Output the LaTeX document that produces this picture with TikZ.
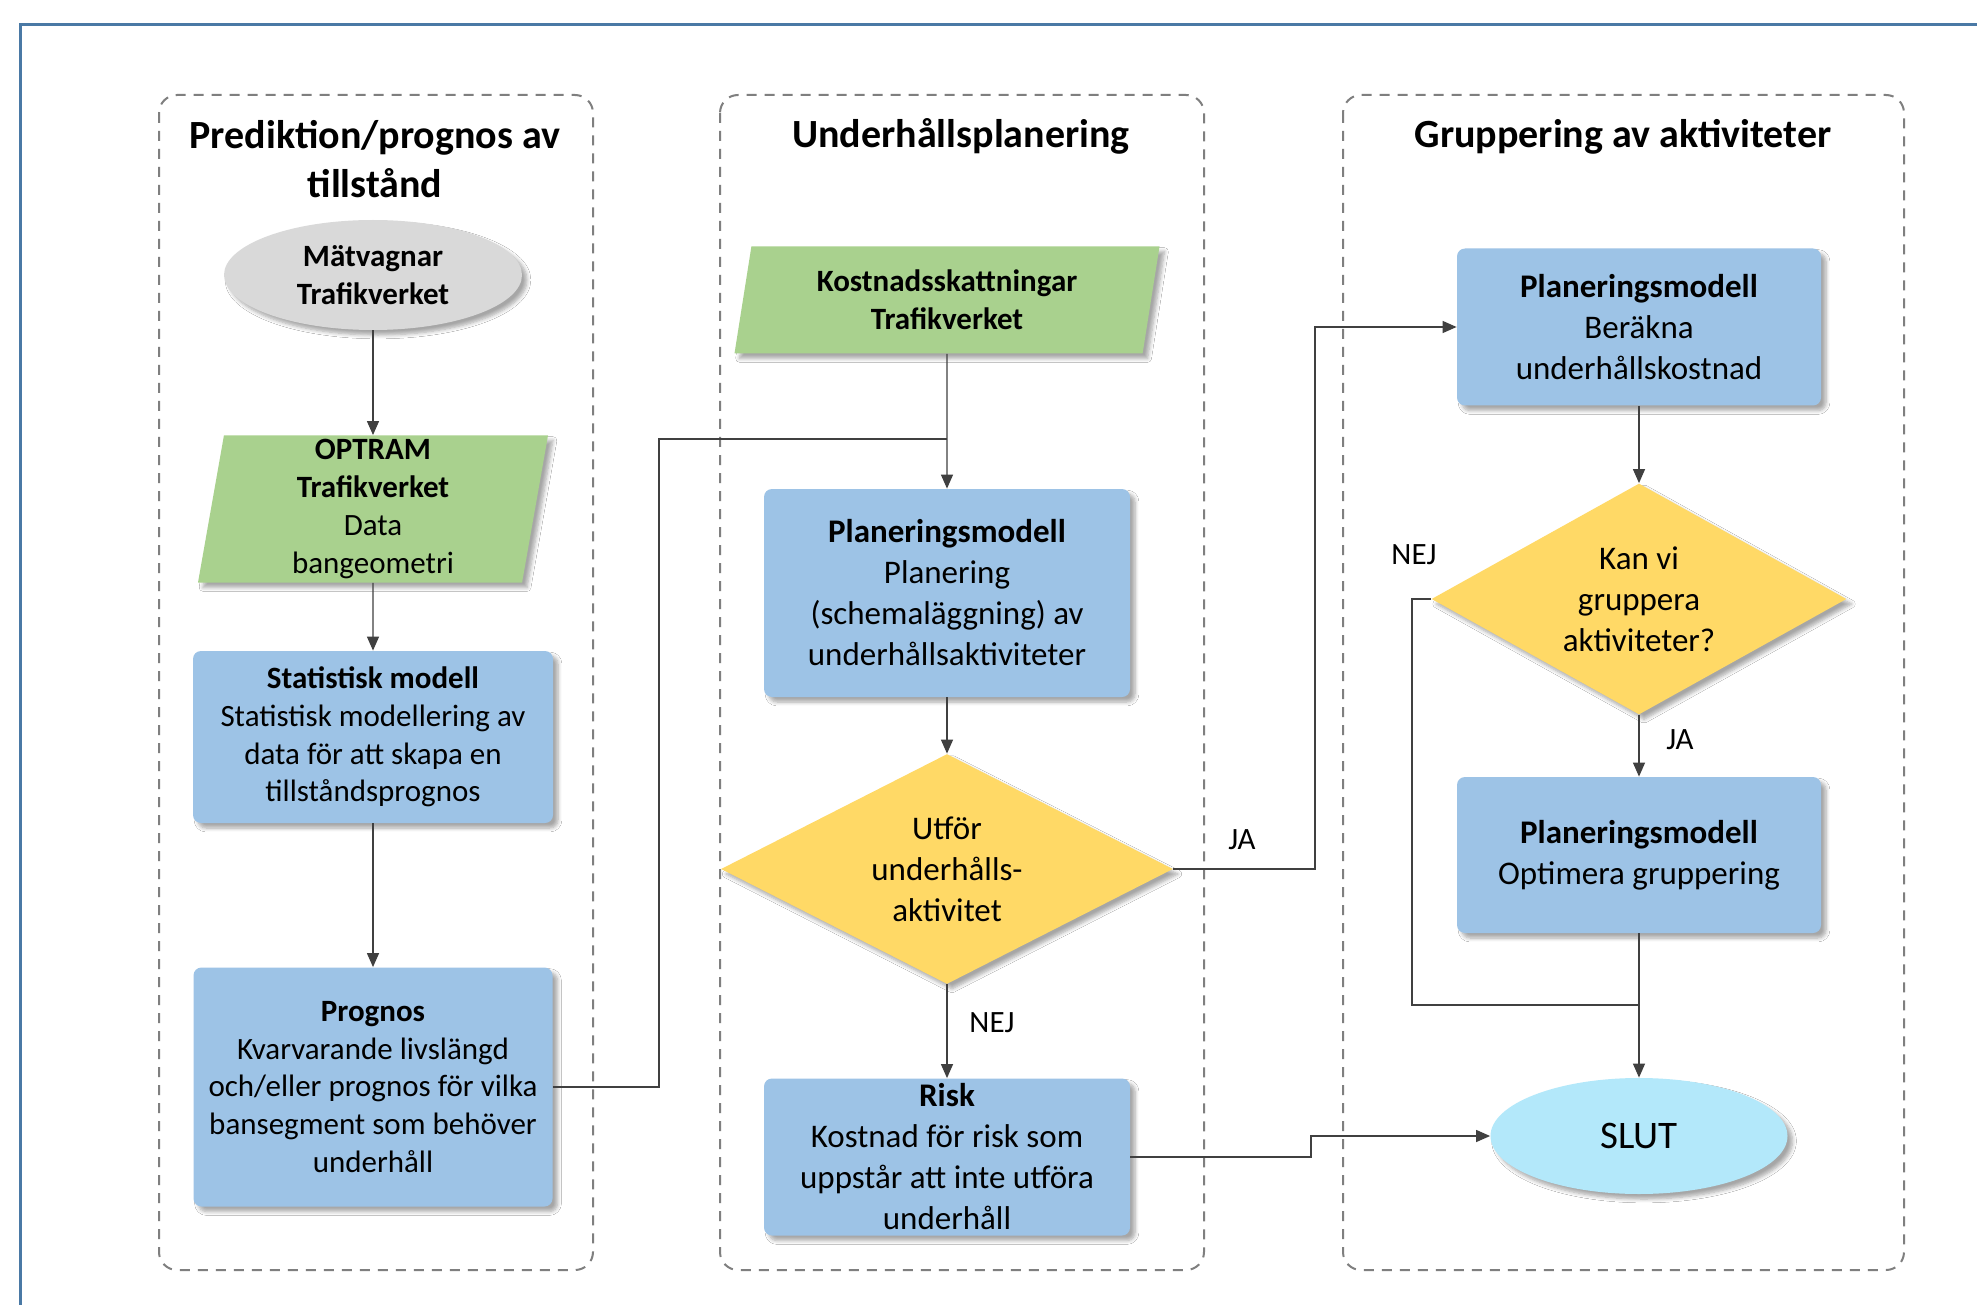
\documentclass[tikz,border=0pt]{standalone}
\usepackage{fontspec}
\setmainfont{Carlito}
\usetikzlibrary{arrows.meta}
\usetikzlibrary{shapes.geometric}
\usetikzlibrary{shadows.blur}

\definecolor{boxblue}{HTML}{9DC3E6}
\definecolor{iogreen}{HTML}{A9D18E}
\definecolor{decyellow}{HTML}{FFD966}
\definecolor{startgray}{HTML}{D9D9D9}
\definecolor{endcyan}{HTML}{B3E8FA}
\definecolor{lanegray}{HTML}{7F7F7F}
\definecolor{framblue}{HTML}{4A79A5}
\definecolor{linegray}{HTML}{404040}

\tikzset{
 lane/.style={draw=lanegray, line width=1pt, dash pattern=on 5pt off 4pt, rounded corners=9pt},
 lanetitle/.style={align=center, font=\fontsize{20}{24.4}\selectfont\bfseries},
 shade/.style={blur shadow={shadow xshift=2.5pt, shadow yshift=-2.5pt, shadow blur steps=6, shadow opacity=35}},
 box/.style={rectangle, rounded corners=4pt, fill=boxblue, align=center, inner sep=2pt, shade},
 dataio/.style={trapezium, trapezium stretches body, fill=iogreen, align=center, inner sep=2pt, shade},
 decision/.style={diamond, fill=decyellow, align=center, inner sep=0pt, shade},
 terminal/.style={ellipse, align=center, inner sep=0pt, shade},
 txtA/.style={font=\fontsize{15.5}{18.9}\selectfont},
 txtB/.style={font=\fontsize{16.5}{20.5}\selectfont},
 lbl/.style={font=\fontsize{15.5}{18.9}\selectfont},
 line/.style={draw=linegray, line width=0.65pt},
 conn/.style={line, -{Triangle[length=7pt,width=6pt]}},
}

\begin{document}
\begin{tikzpicture}[x=0.5pt,y=-0.5pt]
\useasboundingbox (0,0) rectangle (1977,1305);
\fill[white] (0,0) rectangle (1977,1305);
\draw[framblue, line width=1.5pt] (20,1400) -- (20,25) -- (2100,25);

% swimlanes
\draw[lane] (159,95) rectangle (593,1270);
\draw[lane] (720,95) rectangle (1204,1270);
\draw[lane] (1343,95) rectangle (1904,1270);
\node[lanetitle] (titleA) at (375,159) {Prediktion/prognos av\\tillstånd};
\node[lanetitle] (titleB) at (961,136) {Underhållsplanering};
\node[lanetitle] (titleC) at (1623,137) {Gruppering av aktiviteter};

% lane 1
\node[terminal, fill=startgray, txtA, minimum width=149pt, minimum height=55pt] (matv) at (373,275)
 {\textbf{Mätvagnar}\\\textbf{Trafikverket}};
\node[dataio, txtA, trapezium left angle=80, trapezium right angle=100,
 minimum width=175pt, minimum height=73.5pt] (optram) at (373,509)
 {\textbf{OPTRAM}\\\textbf{Trafikverket}\\Data\\bangeometri};
\node[box, txtA, minimum width=180pt, minimum height=86pt] (statm) at (373,737)
 {\textbf{Statistisk modell}\\Statistisk modellering av\\data för att skapa en\\tillståndsprognos};
\node[box, txtA, minimum width=179.5pt, minimum height=119.5pt] (progn) at (373,1087)
 {\textbf{Prognos}\\Kvarvarande livslängd\\och/eller prognos för vilka\\bansegment som behöver\\underhåll};

% lane 2
\node[dataio, txtA, trapezium left angle=76, trapezium right angle=104,
 minimum width=212.5pt, minimum height=53.5pt] (kostn) at (947,300)
 {\textbf{Kostnadsskattningar}\\\textbf{Trafikverket}};
\node[box, txtB, minimum width=183pt, minimum height=104pt] (plan) at (947,593)
 {\textbf{Planeringsmodell}\\Planering\\(schemaläggning) av\\underhållsaktiviteter};
\node[decision, txtB, aspect=2.2, minimum width=226pt, minimum height=115pt] (utfor) at (947,869)
 {Utför\\underhålls-\\aktivitet};
\node[box, txtB, minimum width=183pt, minimum height=78.5pt] (risk) at (947,1157)
 {\textbf{Risk}\\Kostnad för risk som\\uppstår att inte utföra\\underhåll};

% lane 3
\node[box, txtB, minimum width=182pt, minimum height=78.5pt] (berakna) at (1639,327)
 {\textbf{Planeringsmodell}\\Beräkna\\underhållskostnad};
\node[decision, txtB, aspect=2.2, minimum width=207.5pt, minimum height=115.5pt] (kanvi) at (1639,599)
 {Kan vi\\gruppera\\aktiviteter?};
\node[box, txtB, minimum width=182pt, minimum height=78pt] (optim) at (1639,855)
 {\textbf{Planeringsmodell}\\Optimera gruppering};
\node[terminal, fill=endcyan, font=\fontsize{19.5}{23}\selectfont, minimum width=148.5pt, minimum height=58pt] (slut) at (1639,1136)
 {SLUT};

% connectors
\coordinate (bendA) at (659,439);
\coordinate (bendB) at (1315,0);
\coordinate (bendC) at (1412,1005);
\coordinate (bendD) at (1311,0);
\draw[conn] (matv) -- (optram);
\draw[conn] (optram) -- (statm);
\draw[conn] (statm) -- (progn);
\draw[conn] (kostn) -- (plan);
\draw[line] (progn.east) -| (bendA) -- (kostn.south |- bendA);
\draw[conn] (plan) -- (utfor);
\draw[conn] (utfor) -- (risk);
\draw[conn] (utfor.east) -- (utfor.east -| bendB) |- (berakna.west);
\draw[conn] (berakna) -- (kanvi);
\draw[conn] (kanvi) -- (optim);
\draw[line] (kanvi.west) -| (bendC) -- (bendC -| slut.north);
\draw[conn] (optim) -- (slut);
\draw[conn] (risk.east) -- (risk.east -| bendD) |- (slut.west);

% labels
\node[lbl] (nejA) at (992,1023) {NEJ};
\node[lbl] (jaA) at (1242,840) {JA};
\node[lbl] (nejB) at (1414,555) {NEJ};
\node[lbl] (jaB) at (1680,740) {JA};
\end{tikzpicture}
\end{document}
